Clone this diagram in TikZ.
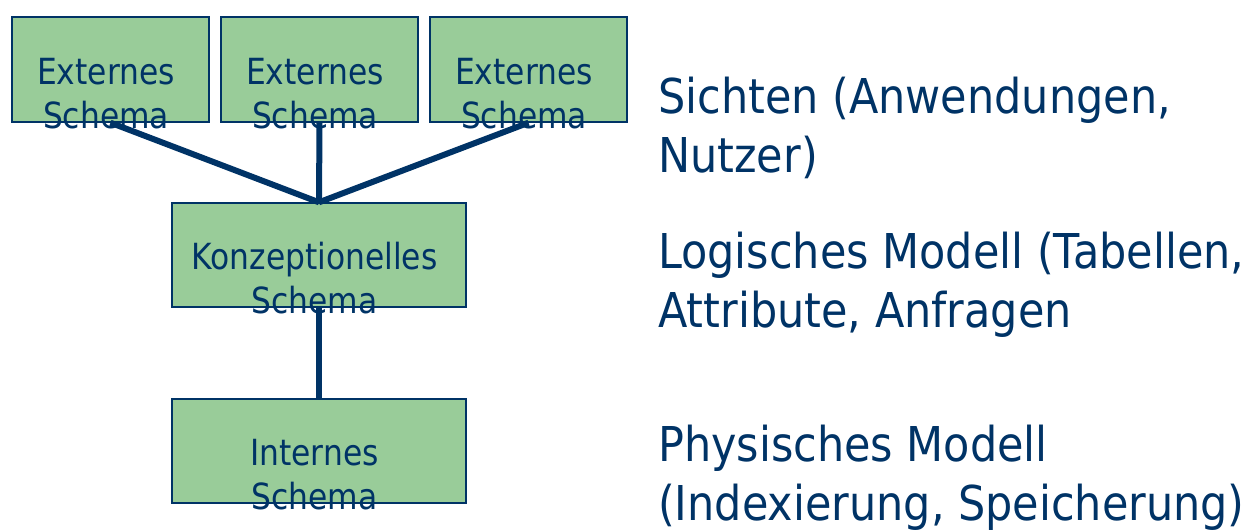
\documentclass[tikz,border=0pt]{standalone}
\usepackage{fontspec}
\usepackage{xcolor}
\newfontfamily\boxfont[FakeStretch=0.87]{DejaVu Sans}
\newfontfamily\sidefont[FakeStretch=0.895]{DejaVu Sans}
\definecolor{navy}{HTML}{003366}
\definecolor{boxgreen}{HTML}{99CC99}

\begin{document}
\begin{tikzpicture}[x=1pt, y=-1pt,
  schema/.style={draw=navy, line width=1.4pt, fill=boxgreen, inner sep=0pt},
  extbox/.style={schema, minimum width=197pt, minimum height=105pt},
  widebox/.style={schema, minimum width=294pt, minimum height=104pt},
  boxtext/.style={text=navy, align=center, inner sep=0pt, anchor=base, font=\boxfont\fontsize{36}{44}\selectfont},
  sidetext/.style={text=navy, align=left, inner sep=0pt, anchor=base west, font=\sidefont\fontsize{48}{59}\selectfont},
  link/.style={draw=navy, line width=6pt}
]
\useasboundingbox (0,0) rectangle (1259,531);

\node[extbox] (ext1) at (110.5,69.5) {};
\node[extbox] (ext2) at (319.5,69.5) {};
\node[extbox] (ext3) at (528.5,69.5) {};
\node[widebox] (konz) at (319,255) {};
\node[widebox] (intern) at (319,451) {};

\node[boxtext] (ext1t) at ([shift={(-4.5,112)}]ext1.north) {Externes\\Schema};
\node[boxtext] (ext2t) at ([shift={(-4.5,112)}]ext2.north) {Externes\\Schema};
\node[boxtext] (ext3t) at ([shift={(-4.5,112)}]ext3.north) {Externes\\Schema};
\node[boxtext] (konzt) at ([shift={(-4.5,111)}]konz.north) {Konzeptionelles\\Schema};
\node[boxtext] (internt) at ([shift={(-4.5,111)}]intern.north) {Internes\\Schema};

\node[sidetext] (sichten) at (658,172) {Sichten (Anwendungen,\\Nutzer)};
\node[sidetext] (logisch) at (658,327) {Logisches Modell (Tabellen,\\Attribute, Anfragen};
\node[sidetext] (physisch) at (658,520) {Physisches Modell\\(Indexierung, Speicherung)};

\draw[link] (ext1.south) -- (konz.north);
\draw[link] (ext2.south) -- (konz.north);
\draw[link] (ext3.south) -- (konz.north);
\draw[link] (konz.south) -- (intern.north);
\end{tikzpicture}
\end{document}
